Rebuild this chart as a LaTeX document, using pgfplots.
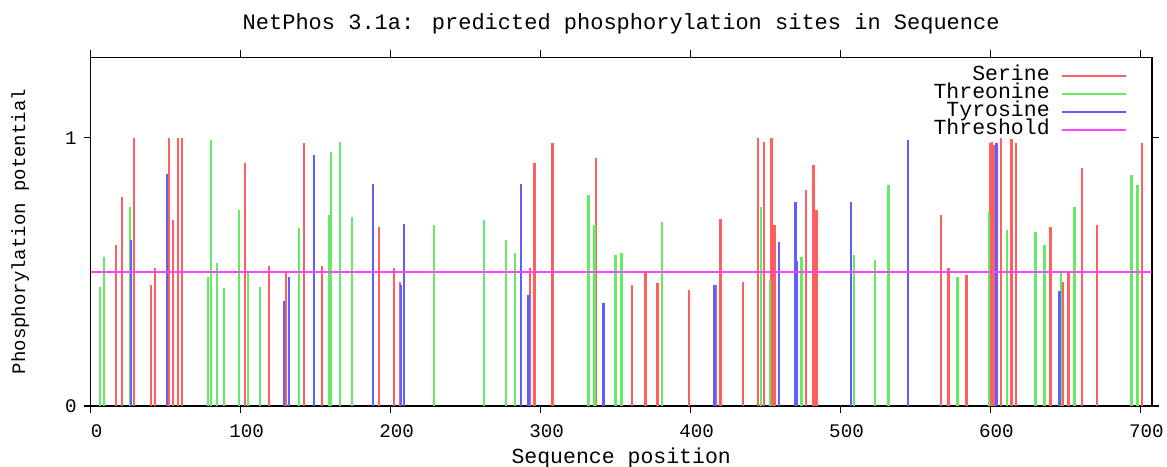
\documentclass[border=0pt]{standalone}
\usepackage{pgfplots}
\pgfplotsset{compat=1.18}
\usepackage{fontspec}
\setmainfont{Liberation Mono}
\definecolor{ser}{RGB}{255,95,95}
\definecolor{thr}{RGB}{100,235,100}
\definecolor{tyr}{RGB}{95,95,255}
\definecolor{thres}{RGB}{255,70,255}
\begin{document}
\begin{tikzpicture}
\begin{axis}[
  at={(0,0)}, anchor=south west,
  scale only axis, width=530.5pt, height=174.35pt,
  xmin=0, xmax=707.5, ymin=0, ymax=1.3,
  xtick={0,100,...,700}, ytick={0,1},
  tick align=outside, xtick pos=both, ytick pos=both,
  major tick length=3.5pt,
  tick style={black, line width=0.7pt},
  axis line style={line width=0.8pt},
  /pgf/number format/assume math mode=true,
  ticklabel style={font=\fontsize{9.6}{10}\selectfont},
  xticklabel style={yshift=-2.5pt, xshift=3pt},
  title={NetPhos 3.1a: predicted phosphorylation sites in Sequence},
  title style={at={(axis description cs:0.5,1.063)}, anchor=center, font=\fontsize{11}{12}\selectfont},
  xlabel={Sequence position},
  xlabel style={at={(axis description cs:0.5,-0.1491)}, anchor=center, font=\fontsize{10.75}{12}\selectfont},
  ylabel={Phosphorylation potential},
  ylabel style={at={(axis description cs:-0.0665,0.5)}, anchor=center, rotate=0, font=\fontsize{9.5}{11}\selectfont},
  legend cell align=right, legend plot pos=right,
  legend style={at={(axis description cs:0.977,0.973)}, anchor=north east, draw=none, fill=none,
    font=\fontsize{10.75}{9}\selectfont, row sep=0pt, inner sep=0pt,
    nodes={inner sep=0.5pt, text height=6.2pt, text depth=1.8pt},
    /tikz/every odd column/.append style={column sep=5pt}},
  legend image code/.code={\draw[#1] (0pt,0pt) -- (32pt,0pt);},
  clip=true,
]
\addplot[ycomb, ser, line width=1.1pt, no markers] coordinates {
(17,0.600) (21,0.780) (29,0.998) (40,0.452) (43,0.514) (52,1.000) (55,0.693) (58,0.998) (61,1.000)
(103,0.905) (119,0.521) (130,0.497) (142,0.979) (154,0.521) (192,0.668) (202,0.514) (206,0.464)
(293,0.514) (296,0.905) (308,0.979) (337,0.924) (361,0.452) (370,0.497) (378,0.458) (399,0.433)
(417,0.452) (420,0.699) (435,0.464) (445,0.998) (449,0.985) (454,0.998) (456,0.674) (477,0.805)
(482,0.899) (484,0.730) (567,0.712) (572,0.514) (584,0.488) (600,0.979) (601,0.984) (602,0.974)
(603,0.970) (607,1.000) (614,0.996) (617,0.979) (640,0.668) (648,0.464) (652,0.497) (661,0.887)
(671,0.674) (701,0.979)
};
\addlegendentry{Serine}
\addplot[ycomb, thr, line width=1.1pt, no markers] coordinates {
(6,0.444) (9,0.557) (26,0.743) (78,0.482) (80,0.990) (84,0.533) (89,0.439) (99,0.730) (105,0.494)
(113,0.444) (139,0.662) (159,0.712) (160,0.948) (166,0.984) (174,0.705) (229,0.674) (262,0.693)
(277,0.619) (283,0.569) (332,0.787) (336,0.674) (350,0.563) (354,0.569) (381,0.687) (447,0.743)
(453,0.471) (474,0.557) (509,0.563) (523,0.546) (532,0.824) (578,0.482) (599,0.724) (611,0.655)
(630,0.649) (636,0.600) (647,0.494) (656,0.743) (694,0.860) (698,0.824)
};
\addlegendentry{Threonine}
\addplot[ycomb, tyr, line width=1.1pt, no markers] coordinates {
(27,0.619) (51,0.866) (129,0.391) (132,0.482) (149,0.935) (188,0.829) (207,0.452) (209,0.680)
(287,0.829) (292,0.414) (342,0.383) (416,0.452) (459,0.613) (470,0.761) (471,0.539) (507,0.761)
(545,0.990) (604,0.979) (646,0.427)
};
\addlegendentry{Tyrosine}
\addplot[thres, line width=0.9pt, no markers] coordinates {(0,0.5) (707.5,0.5)};
\addlegendentry{Threshold}
\end{axis}
\pgfresetboundingbox
\path[use as bounding box] (-45.35pt,-30pt) rectangle (538.15pt,203pt);
\end{tikzpicture}
\end{document}
